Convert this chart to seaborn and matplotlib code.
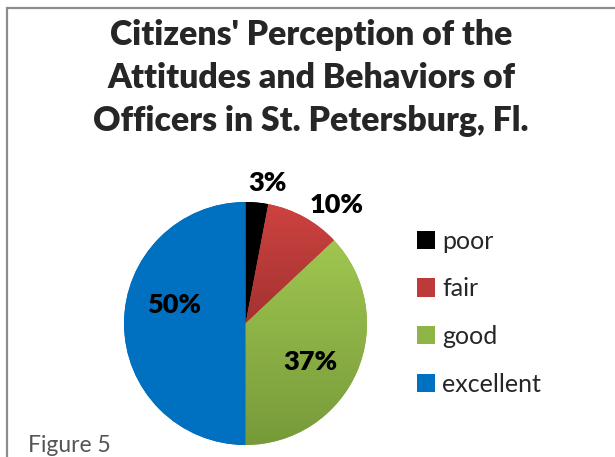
import numpy as np
import seaborn as sns
import matplotlib
matplotlib.use('Agg')
import matplotlib.pyplot as plt
from matplotlib.patches import Rectangle

# Data
categories = ['poor', 'fair', 'good', 'excellent']
shares = [3, 10, 37, 50]
pct_labels = ['3%', '10%', '37%', '50%']

# Colours (top / bottom of the vertical gradient Excel used)
top_colors = ['#000000', '#CE4340', '#A0C650', '#0070C0']
bottom_colors = ['#000000', '#A33231', '#779A3A', '#0070C0']
mid_colors = ['#000000', '#BE3A38', '#8FB548', '#0070C0']

# label placement: distance from centre (radius units) and angle shift (deg)
label_dist = [1.17, 1.23, 0.62, 0.61]
label_shift = [-3.7, -8.6, -7.4, -14.5]

sns.set_theme(style='white')
plt.rcParams['font.family'] = ['Lato', 'DejaVu Sans']

fig = plt.figure(figsize=(6.15, 4.57), dpi=100)
W, H = 615, 457

# chart frame (cut off at right and bottom like the reference)
fig.patches.append(Rectangle((7 / W, -0.1), 1.2, 1.1 - 8 / H,
                             transform=fig.transFigure, fill=False,
                             edgecolor='#8C8C8C', linewidth=1.6))

cx, cy, r = 245.5, H - 323.5, 121.5
ax = fig.add_axes([(cx - r) / W, (cy - r) / H, 2 * r / W, 2 * r / H])

wedges, _ = ax.pie(shares, colors=mid_colors, startangle=90, counterclock=False,
                   wedgeprops=dict(linewidth=0))
ax.set_aspect('equal')
ax.axis('off')

# vertical gradient inside each wedge
for w, c1, c2 in zip(wedges, top_colors, bottom_colors):
    cmap = matplotlib.colors.LinearSegmentedColormap.from_list('g', [c2, c1])
    grad = np.linspace(0, 1, 256).reshape(-1, 1)
    bb = w.get_path().get_extents()
    im = ax.imshow(grad, cmap=cmap, origin='lower', aspect='auto',
                   extent=[bb.x0, bb.x1, bb.y0, bb.y1], zorder=w.get_zorder())
    im.set_clip_path(w)
ax.set_xlim(-1, 1)
ax.set_ylim(-1, 1)

# percentage labels
for w, lab, d, s in zip(wedges, pct_labels, label_dist, label_shift):
    ang = np.deg2rad((w.theta1 + w.theta2) / 2 + s)
    ax.text(d * np.cos(ang), d * np.sin(ang), lab, ha='center', va='center',
            fontsize=19.5, fontweight='heavy', color='black', zorder=5)

# title
fig.text(311 / W, 1 - 78 / H,
         "Citizens' Perception of the\nAttitudes and Behaviors of\nOfficers in St. Petersburg, Fl.",
         ha='center', va='center', fontsize=24.3, fontweight='heavy',
         linespacing=1.43)

# legend
handles = [Rectangle((0, 0), 1, 1, facecolor=c, edgecolor='none') for c in mid_colors]
fig.legend(handles, categories, loc='upper left',
           bbox_to_anchor=(394 / W, 1 - 207 / H), frameon=False,
           fontsize=18, handlelength=0.75, handleheight=0.75,
           handletextpad=0.28, labelspacing=0.99)

fig.text(28 / W, 1 - 445 / H, 'Figure 5', ha='left', va='center',
         fontsize=16.5, color='#555555')

fig.savefig('out.png', dpi=100)
